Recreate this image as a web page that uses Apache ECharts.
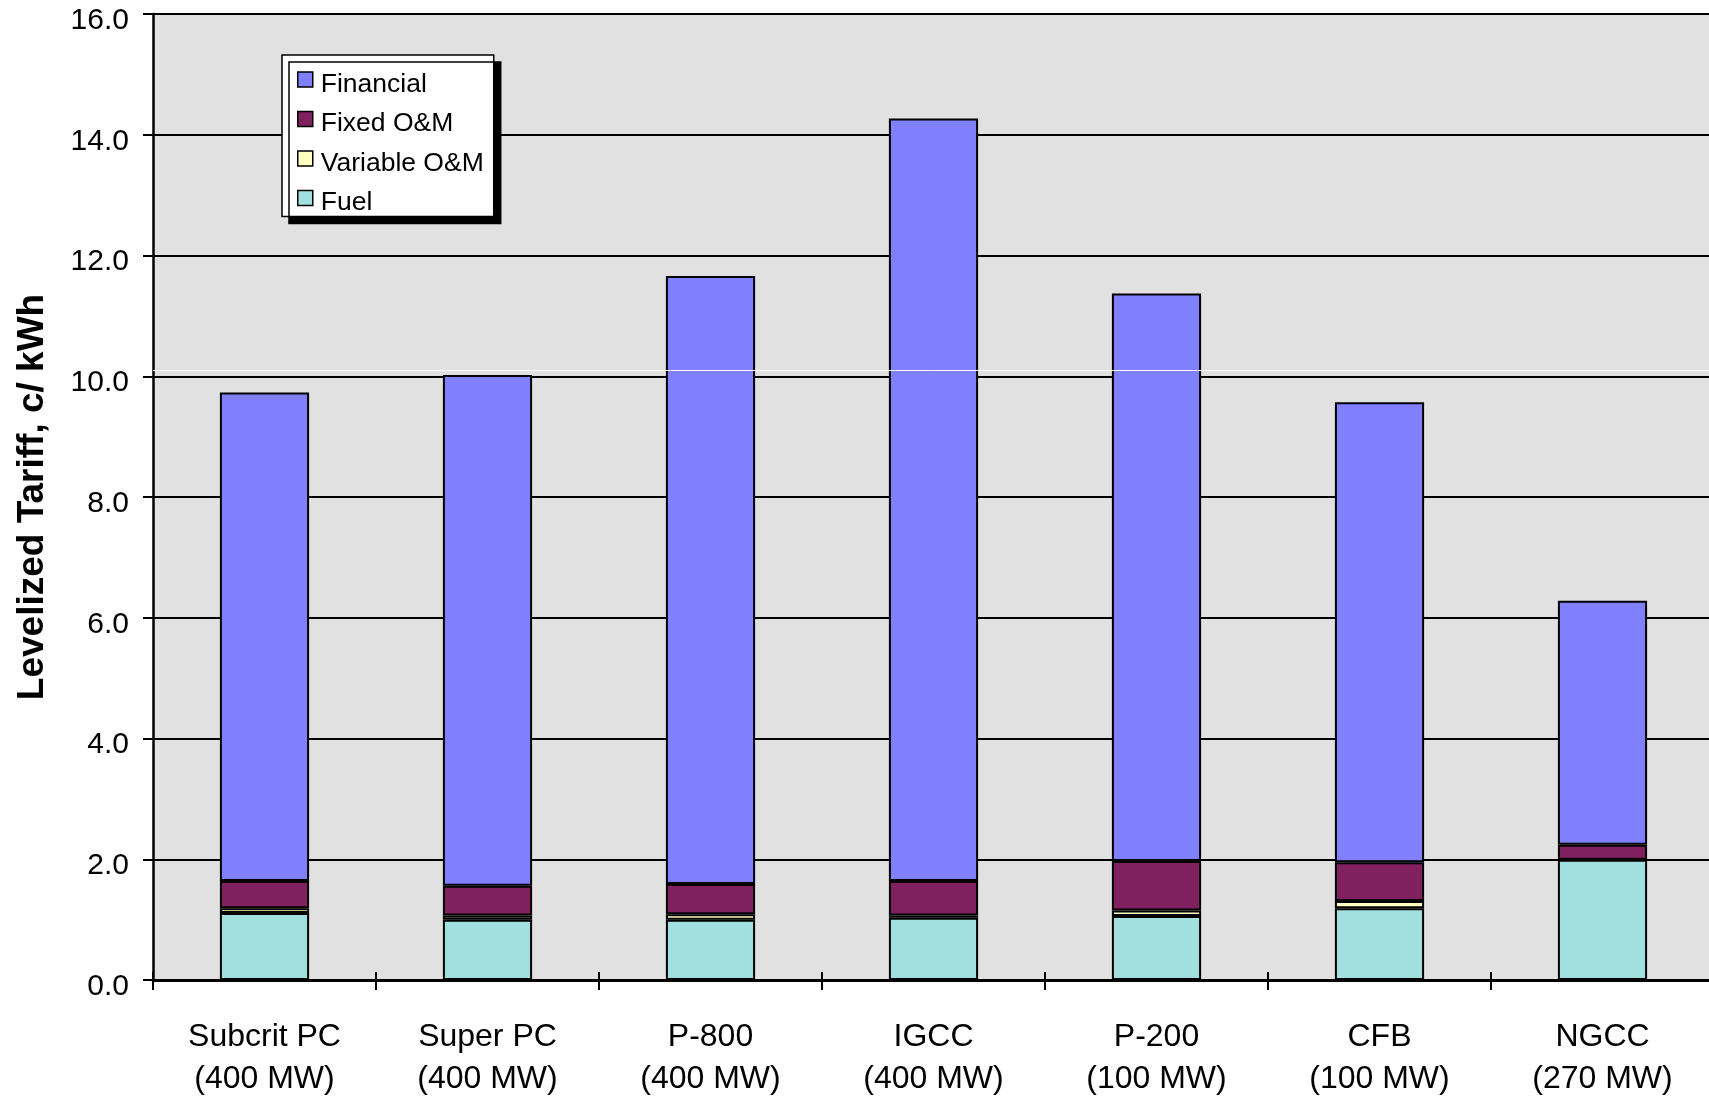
<!DOCTYPE html>
<html>
<head>
<meta charset="utf-8">
<title>Levelized Tariff</title>
<script src="https://cdn.jsdelivr.net/npm/echarts@6/dist/echarts.min.js"></script>
<style>
  html, body { margin: 0; padding: 0; background: #ffffff; }
  #chart { width: 1709px; height: 1098px; }
</style>
</head>
<body>
<div id="chart"></div>
<script>
// Plant types (two-line category labels)
const plants = [
  'Subcrit PC\n(400 MW)',
  'Super PC\n(400 MW)',
  'P-800\n(400 MW)',
  'IGCC\n(400 MW)',
  'P-200\n(100 MW)',
  'CFB\n(100 MW)',
  'NGCC\n(270 MW)'
];

// Tariff components, c/kWh (stacked bottom to top)
const fuel       = [1.11, 1.00, 1.00, 1.03, 1.06, 1.19, 1.99];
const variableOM = [0.08, 0.07, 0.09, 0.04, 0.09, 0.12, 0.00];
const fixedOM    = [0.45, 0.49, 0.50, 0.57, 0.82, 0.64, 0.25];
const financial  = [8.09, 8.46, 10.07, 12.63, 9.40, 7.62, 4.04];

// Value axis range
const yMin = 0;
const yMax = 16;
const yStep = 2;

const FONT = '"Liberation Sans", Arial, Helvetica, sans-serif';

const chart = echarts.init(document.getElementById('chart'), null, { renderer: 'canvas' });

const barBase = {
  type: 'bar',
  stack: 'tariff',
  xAxisIndex: 0,
  yAxisIndex: 0,
  barWidth: '40%',
  emphasis: { disabled: true }
};

chart.setOption({
  animation: false,
  backgroundColor: '#ffffff',
  grid: {
    show: true,
    left: 153,
    top: 14,
    right: -5,
    bottom: 118,
    outerBoundsMode: 'none',
    containLabel: false,
    backgroundColor: '#e1e1e1',
    borderWidth: 0
  },
  legend: {
    orient: 'vertical',
    left: 282,
    top: 55,
    padding: [6, 10, 0, 15],
    itemWidth: 15,
    itemHeight: 15,
    itemGap: 2.5,
    icon: 'rect',
    backgroundColor: '#ffffff',
    borderColor: '#000000',
    borderWidth: 1.5,
    borderRadius: 0,
    shadowColor: '#000000',
    shadowBlur: 0,
    shadowOffsetX: 7,
    shadowOffsetY: 7,
    selectedMode: false,
    data: ['Financial', 'Fixed O&M', 'Variable O&M', 'Fuel'],
    itemStyle: { borderColor: '#000000', borderWidth: 1.5 },
    formatter: '{t|{name}}',
    textStyle: {
      fontFamily: FONT,
      fontSize: 26.5,
      color: '#000000',
      rich: {
        t: {
          fontFamily: FONT,
          fontSize: 26.5,
          lineHeight: 26,
          padding: [10, 0, 0, 3],
          color: '#000000'
        }
      }
    }
  },
  xAxis: [
    {
      type: 'category',
      data: plants,
      position: 'bottom',
      axisLine: { show: true, lineStyle: { color: '#000000', width: 3 } },
      axisTick: { show: true, inside: false, length: 10, lineStyle: { color: '#000000', width: 2 } },
      axisLabel: {
        margin: 36,
        fontFamily: FONT,
        fontSize: 32,
        lineHeight: 42,
        color: '#000000',
        interval: 0
      },
      splitLine: { show: false }
    },
    {
      // inner half of the crossing category ticks
      type: 'category',
      data: plants,
      position: 'bottom',
      axisLine: { show: false },
      axisTick: { show: true, inside: true, length: 8, lineStyle: { color: '#000000', width: 2 } },
      axisLabel: { show: false },
      splitLine: { show: false }
    }
  ],
  yAxis: {
    type: 'value',
    min: yMin,
    max: yMax,
    interval: yStep,
    name: 'Levelized Tariff, c/ kWh',
    nameLocation: 'middle',
    nameRotate: 90,
    nameGap: 102,
    nameTextStyle: {
      fontFamily: FONT,
      fontSize: 37,
      fontWeight: 'bold',
      color: '#000000'
    },
    axisLine: { show: true, lineStyle: { color: '#000000', width: 2.5 } },
    axisTick: { show: true, inside: false, length: 10, lineStyle: { color: '#000000', width: 2 } },
    axisLabel: {
      margin: 24,
      fontFamily: FONT,
      fontSize: 30,
      color: '#000000',
      verticalAlign: 'top',
      lineHeight: 13,
      formatter: v => v.toFixed(1)
    },
    splitLine: { show: true, lineStyle: { color: '#000000', width: 2 } }
  },
  series: [
    Object.assign({}, barBase, {
      name: 'Fuel',
      data: fuel,
      itemStyle: { color: '#a2e0e0', borderColor: '#000000', borderWidth: 2 }
    }),
    Object.assign({}, barBase, {
      name: 'Variable O&M',
      data: variableOM,
      itemStyle: { color: '#ffffc0', borderColor: '#000000', borderWidth: 2 }
    }),
    Object.assign({}, barBase, {
      name: 'Fixed O&M',
      data: fixedOM,
      itemStyle: { color: '#80205f', borderColor: '#000000', borderWidth: 2 }
    }),
    Object.assign({}, barBase, {
      name: 'Financial',
      data: financial,
      itemStyle: { color: '#8080ff', borderColor: '#000000', borderWidth: 2 },
      markLine: {
        silent: true,
        symbol: 'none',
        label: { show: false },
        lineStyle: { color: '#ffffff', width: 1, type: 'solid' },
        emphasis: { disabled: true },
        data: [{ yAxis: 10.1 }]
      }
    })
  ]
});
</script>
</body>
</html>
